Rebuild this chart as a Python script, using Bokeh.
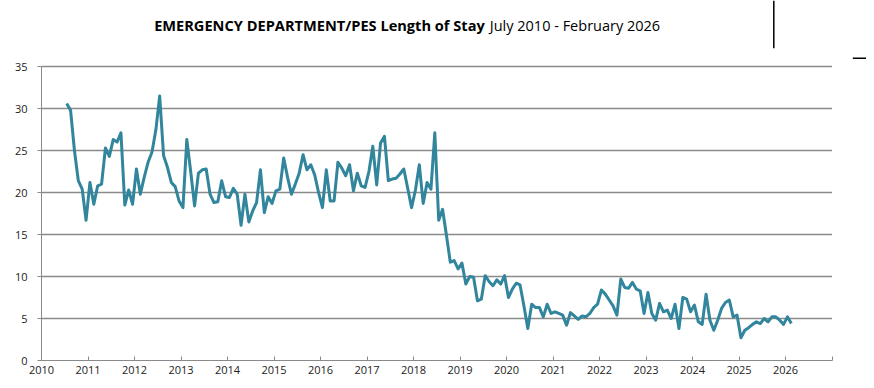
from bokeh.plotting import figure
from bokeh.models import Range1d, FixedTicker
from bokeh.core.properties import value
from bokeh.embed import file_html
from bokeh.resources import INLINE

# ---- data (monthly, July 2010 .. February 2026) ----
start_year = 2010
start_month = 7
los_values = [
    # 2010 Jul-Dec
    30.6, 29.8, 25.0, 21.4, 20.4, 16.7,
    # 2011
    21.2, 18.6, 20.8, 21.0, 25.3, 24.3, 26.3, 26.0, 27.1, 18.5, 20.3, 18.6,
    # 2012
    22.8, 19.8, 21.8, 23.6, 24.8, 27.4, 31.5, 24.4, 23.0, 21.2, 20.7, 19.0,
    # 2013
    18.2, 26.3, 22.5, 18.4, 22.3, 22.7, 22.8, 19.8, 18.8, 18.9, 21.4, 19.5,
    # 2014
    19.4, 20.5, 19.8, 16.1, 19.8, 16.5, 17.8, 18.8, 22.7, 17.6, 19.5, 18.7,
    # 2015
    20.2, 20.4, 24.1, 21.8, 19.8, 21.0, 22.3, 24.5, 22.7, 23.3, 22.1, 20.0,
    # 2016
    18.2, 22.7, 19.0, 19.0, 23.6, 22.9, 22.0, 23.3, 20.2, 22.3, 20.8, 20.6,
    # 2017
    22.5, 25.5, 20.9, 25.9, 26.7, 21.4, 21.6, 21.7, 22.2, 22.8, 20.5, 18.2,
    # 2018
    20.3, 23.3, 18.7, 21.2, 20.4, 27.1, 16.7, 18.0, 14.9, 11.7, 11.9, 10.9,
    # 2019
    11.6, 9.1, 10.0, 9.9, 7.1, 7.3, 10.1, 9.4, 8.9, 9.6, 9.1, 10.1,
    # 2020
    7.5, 8.5, 9.2, 9.0, 6.5, 3.8, 6.7, 6.3, 6.3, 5.2, 6.7, 5.6,
    # 2021
    5.8, 5.6, 5.4, 4.2, 5.7, 5.3, 4.9, 5.3, 5.2, 5.6, 6.3, 6.7,
    # 2022
    8.4, 7.9, 7.2, 6.5, 5.4, 9.7, 8.7, 8.6, 9.3, 8.5, 8.3, 5.6,
    # 2023
    8.1, 5.6, 4.8, 6.8, 5.8, 6.0, 5.0, 6.7, 3.8, 7.5, 7.3, 5.8,
    # 2024
    6.6, 4.6, 4.3, 7.9, 4.8, 3.6, 4.8, 6.2, 6.9, 7.2, 5.2, 5.4,
    # 2025
    2.7, 3.6, 3.9, 4.3, 4.6, 4.4, 5.0, 4.6, 5.2, 5.2, 4.8, 4.3,
    # 2026 Jan-Feb
    5.2, 4.4,
]
year_ticks = list(range(2010, 2028))
year_labels = [str(y) for y in range(2010, 2027)] + [""]
y_ticks = [0, 5, 10, 15, 20, 25, 30, 35]
title_bold = "EMERGENCY DEPARTMENT/PES Length of Stay"
title_rest = "July 2010 - February 2026"

# month midpoints as decimal years
x_vals = [start_year + (start_month - 1 + i + 0.5) / 12.0 for i in range(len(los_values))]

GRID = "#8a8a8a"
LINE = "#31859C"

# layout (pixels)
PX_YEAR = 46.5          # px per year on x
PX_UNIT = 8.4           # px per unit on y
LEFT = 41
FRAME_W = 825
FRAME_H = 360

x0, x1 = year_ticks[0], year_ticks[-1]
y0, y1 = y_ticks[0], y_ticks[-1]

p = figure(frame_width=FRAME_W, frame_height=FRAME_H, output_backend="svg", toolbar_location=None,
           x_range=Range1d(x0, x0 + FRAME_W / PX_YEAR), y_range=Range1d(y0, FRAME_H / PX_UNIT),
           min_border_left=LEFT, min_border_right=0, min_border_top=0, min_border_bottom=20)
p.background_fill_color = "white"
p.border_fill_color = "white"
p.outline_line_color = None
p.xgrid.visible = False
p.ygrid.visible = False

# horizontal gridlines across the axis extent
p.segment(x0=[x0] * (len(y_ticks) - 1), x1=[x1] * (len(y_ticks) - 1),
          y0=y_ticks[1:], y1=y_ticks[1:], line_color=GRID, line_width=1.3)

p.line(x_vals, los_values, line_color=LINE, line_width=3, line_join="round")

# axes
p.xaxis.bounds = (x0, x1)
p.xaxis.ticker = FixedTicker(ticks=year_ticks)
p.xaxis.major_label_overrides = {t: lab for t, lab in zip(year_ticks, year_labels)}
p.xaxis.axis_line_color = GRID
p.xaxis.major_tick_line_color = GRID
p.xaxis.major_tick_in = 4
p.xaxis.major_tick_out = 0
p.xaxis.minor_tick_line_color = None
p.xaxis.major_label_standoff = 5

p.yaxis.bounds = (y0, y1)
p.yaxis.ticker = FixedTicker(ticks=y_ticks)
p.yaxis.axis_line_color = GRID
p.yaxis.major_tick_line_color = GRID
p.yaxis.major_tick_in = 0
p.yaxis.major_tick_out = 4
p.yaxis.minor_tick_line_color = None
p.yaxis.major_label_standoff = 10

for ax in (p.xaxis[0], p.yaxis[0]):
    ax.major_label_text_font = "Open Sans"
    ax.major_label_text_font_size = "11px"
    ax.major_label_text_color = "#222222"

# title (bold part + regular part), placed in the frame above the 35 line
title_y = (360.3 - 25) / PX_UNIT
split_x = x0 + (484 - 40.7) / PX_YEAR
gap = 5 / PX_YEAR
p.text(x=[split_x], y=[title_y], text=[title_bold], text_align="right", text_baseline="middle",
       text_font=value("Open Sans"), text_font_style=value("bold"), text_font_size=value("14.6px"),
       text_color="black")
p.text(x=[split_x + gap], y=[title_y], text=[title_rest], text_align="left", text_baseline="middle",
       text_font=value("Open Sans"), text_font_style=value("normal"), text_font_size=value("14.5px"),
       text_color="black")

# stray marks at the top right of the reference image
mark_x = x0 + (773 - 40.7) / PX_YEAR
p.segment(x0=[mark_x], x1=[mark_x], y0=[(360.3 - 48) / PX_UNIT], y1=[FRAME_H / PX_UNIT],
          line_color="black", line_width=1.5)
p.segment(x0=[x0 + (852 - 40.7) / PX_YEAR], x1=[x0 + FRAME_W / PX_YEAR],
          y0=[(360.3 - 58) / PX_UNIT], y1=[(360.3 - 58) / PX_UNIT],
          line_color="black", line_width=1.5)

open("out.html", "w").write(file_html(p, INLINE))
